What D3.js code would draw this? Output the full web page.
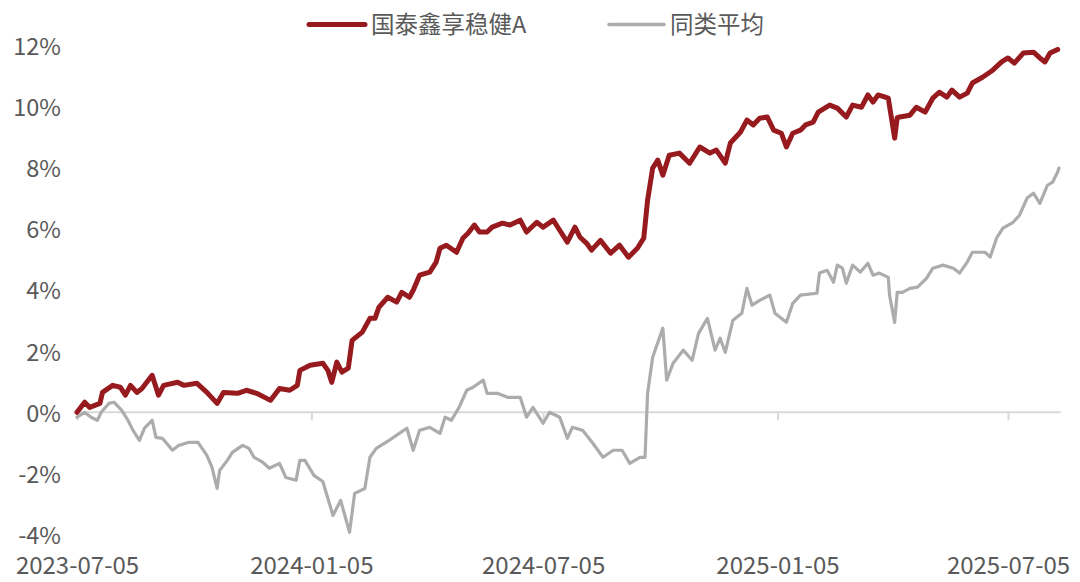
<!DOCTYPE html>
<html><head><meta charset="utf-8">
<script src="https://cdn.jsdelivr.net/npm/d3@7/dist/d3.min.js"></script>
<style>html,body{margin:0;padding:0;background:#fff}svg{display:block}</style>
</head><body>
<svg id="chart" width="1080" height="582"></svg>
<script>
const seriesNames = ["国泰鑫享稳健A", "同类平均"];
const seriesColors = ["#971b1e", "#acacac"];

const fundDates = ["2023-07-05","2023-07-11","2023-07-15","2023-07-23","2023-07-25","2023-08-02","2023-08-08","2023-08-12","2023-08-16","2023-08-21","2023-08-25","2023-09-02","2023-09-07","2023-09-11","2023-09-22","2023-09-27","2023-10-07","2023-10-15","2023-10-23","2023-10-28","2023-11-08","2023-11-15","2023-11-23","2023-12-04","2023-12-11","2023-12-19","2023-12-25","2023-12-27","2024-01-04","2024-01-14","2024-01-18","2024-01-21","2024-01-25","2024-01-29","2024-02-03","2024-02-06","2024-02-14","2024-02-20","2024-02-24","2024-02-27","2024-03-05","2024-03-12","2024-03-16","2024-03-22","2024-03-25","2024-03-30","2024-04-07","2024-04-12","2024-04-15","2024-04-20","2024-04-28","2024-05-03","2024-05-07","2024-05-12","2024-05-16","2024-05-22","2024-05-26","2024-06-03","2024-06-09","2024-06-17","2024-06-22","2024-06-30","2024-07-05","2024-07-13","2024-07-18","2024-07-24","2024-07-30","2024-08-03","2024-08-08","2024-08-12","2024-08-19","2024-08-27","2024-09-03","2024-09-10","2024-09-17","2024-09-22","2024-09-25","2024-09-29","2024-10-03","2024-10-07","2024-10-12","2024-10-20","2024-10-28","2024-11-05","2024-11-13","2024-11-18","2024-11-25","2024-11-29","2024-12-07","2024-12-12","2024-12-17","2024-12-22","2024-12-28","2025-01-02","2025-01-08","2025-01-12","2025-01-17","2025-01-23","2025-01-27","2025-02-02","2025-02-06","2025-02-15","2025-02-21","2025-02-28","2025-03-05","2025-03-12","2025-03-17","2025-03-21","2025-03-25","2025-04-02","2025-04-07","2025-04-09","2025-04-11","2025-04-19","2025-04-24","2025-05-01","2025-05-07","2025-05-12","2025-05-18","2025-05-22","2025-05-28","2025-06-03","2025-06-07","2025-06-15","2025-06-23","2025-06-30","2025-07-05","2025-07-10","2025-07-17","2025-07-25","2025-07-30","2025-08-03","2025-08-07","2025-08-13"];
const fundValues = [0.00,0.33,0.16,0.29,0.65,0.88,0.82,0.56,0.88,0.65,0.78,1.21,0.56,0.88,0.98,0.88,0.95,0.65,0.29,0.65,0.62,0.72,0.62,0.39,0.78,0.72,0.88,1.37,1.54,1.60,1.37,0.98,1.64,1.31,1.44,2.35,2.62,3.07,3.07,3.43,3.76,3.60,3.92,3.76,3.99,4.48,4.58,4.91,5.36,5.46,5.23,5.69,5.85,6.12,5.89,5.89,6.05,6.18,6.12,6.28,5.89,6.21,6.05,6.28,5.95,5.56,6.05,5.72,5.53,5.30,5.62,5.20,5.46,5.07,5.36,5.69,6.93,7.98,8.24,7.75,8.40,8.47,8.14,8.67,8.47,8.57,8.14,8.80,9.16,9.55,9.39,9.61,9.65,9.22,9.12,8.67,9.12,9.22,9.39,9.48,9.81,10.04,9.94,9.65,10.04,9.97,10.37,10.14,10.37,10.27,8.96,9.63,9.65,9.71,9.97,9.81,10.27,10.46,10.30,10.53,10.30,10.43,10.76,10.95,11.18,11.45,11.58,11.41,11.74,11.77,11.58,11.45,11.74,11.86];

const avgDates = ["2023-07-05","2023-07-11","2023-07-16","2023-07-21","2023-07-24","2023-07-30","2023-08-03","2023-08-09","2023-08-14","2023-08-18","2023-08-23","2023-08-27","2023-09-02","2023-09-05","2023-09-10","2023-09-18","2023-09-23","2023-10-01","2023-10-08","2023-10-15","2023-10-19","2023-10-23","2023-10-25","2023-10-31","2023-11-04","2023-11-12","2023-11-17","2023-11-21","2023-11-28","2023-12-03","2023-12-11","2023-12-16","2023-12-24","2023-12-27","2023-12-31","2024-01-07","2024-01-14","2024-01-22","2024-01-28","2024-02-04","2024-02-08","2024-02-16","2024-02-20","2024-02-25","2024-03-06","2024-03-14","2024-03-20","2024-03-25","2024-03-30","2024-04-07","2024-04-15","2024-04-19","2024-04-24","2024-04-30","2024-05-06","2024-05-11","2024-05-19","2024-05-22","2024-05-30","2024-06-07","2024-06-17","2024-06-22","2024-06-27","2024-07-05","2024-07-10","2024-07-18","2024-07-24","2024-07-28","2024-08-05","2024-08-13","2024-08-21","2024-08-29","2024-09-05","2024-09-11","2024-09-19","2024-09-23","2024-09-25","2024-09-29","2024-10-07","2024-10-10","2024-10-15","2024-10-23","2024-10-30","2024-11-04","2024-11-11","2024-11-17","2024-11-21","2024-11-25","2024-12-01","2024-12-08","2024-12-12","2024-12-16","2024-12-22","2024-12-30","2025-01-03","2025-01-12","2025-01-17","2025-01-23","2025-02-05","2025-02-07","2025-02-13","2025-02-18","2025-02-21","2025-02-25","2025-02-28","2025-03-05","2025-03-11","2025-03-17","2025-03-21","2025-03-26","2025-04-02","2025-04-03","2025-04-07","2025-04-09","2025-04-13","2025-04-19","2025-04-25","2025-05-02","2025-05-07","2025-05-15","2025-05-23","2025-05-28","2025-06-03","2025-06-07","2025-06-17","2025-06-21","2025-06-26","2025-07-01","2025-07-09","2025-07-14","2025-07-20","2025-07-25","2025-07-30","2025-08-05","2025-08-09","2025-08-13","2025-08-14"];
const avgValues = [-0.16,0.00,-0.16,-0.26,0.00,0.29,0.33,0.07,-0.26,-0.59,-0.92,-0.52,-0.26,-0.82,-0.85,-1.24,-1.08,-0.98,-0.98,-1.41,-1.80,-2.49,-1.90,-1.57,-1.31,-1.08,-1.18,-1.47,-1.64,-1.83,-1.67,-2.13,-2.22,-1.57,-1.57,-2.06,-2.26,-3.37,-2.88,-3.92,-2.65,-2.49,-1.47,-1.18,-0.92,-0.69,-0.52,-1.24,-0.59,-0.49,-0.69,-0.16,-0.26,0.16,0.72,0.82,1.05,0.62,0.62,0.49,0.49,-0.16,0.16,-0.36,0.00,-0.16,-0.85,-0.49,-0.59,-1.01,-1.47,-1.24,-1.24,-1.67,-1.47,-1.47,0.62,1.80,2.75,1.05,1.60,2.03,1.70,2.58,3.07,2.03,2.42,1.96,3.01,3.24,4.05,3.50,3.66,3.83,3.24,2.94,3.56,3.83,3.89,4.55,4.64,4.25,4.81,4.71,4.22,4.81,4.58,4.87,4.48,4.55,4.41,3.83,2.94,3.92,3.92,4.05,4.09,4.38,4.71,4.81,4.71,4.55,4.91,5.23,5.23,5.07,5.69,6.02,6.21,6.44,7.00,7.16,6.83,7.42,7.52,7.85,7.98];

const xTickLabels = ["2023-07-05","2024-01-05","2024-07-05","2025-01-05","2025-07-05"];
const yTickValues = [-4,-2,0,2,4,6,8,10,12];

const parse = d3.timeParse("%Y-%m-%d");
const fmt = d3.timeFormat("%Y-%m-%d");
const FONT = "'Noto Sans CJK SC','Microsoft YaHei',sans-serif";
const TEXT = "#595959";

const x = d3.scaleTime()
  .domain([parse("2023-07-05"), parse("2025-07-05")])
  .range([77, 1008]);
const y = d3.scaleLinear().domain([-4, 12]).range([534.7, 45.1]);

const svg = d3.select("#chart");

const fund = fundDates.map((d, i) => ({date: parse(d), value: fundValues[i]}));
const avg = avgDates.map((d, i) => ({date: parse(d), value: avgValues[i]}));
const lastDate = d3.max([fund[fund.length-1].date, avg[avg.length-1].date]);

// zero baseline
svg.append("line")
  .attr("x1", x(parse("2023-07-05")) - 2).attr("x2", x(lastDate) + 2)
  .attr("y1", y(0)).attr("y2", y(0))
  .attr("stroke", "#d9d9d9").attr("stroke-width", 2);

// x axis ticks + labels
const xAxis = d3.axisBottom(x)
  .tickValues(xTickLabels.map(parse))
  .tickFormat(fmt)
  .tickSize(8)
  .tickSizeOuter(0);
const gx = svg.append("g").attr("transform", `translate(0,${y(0)})`).call(xAxis);
gx.select(".domain").remove();
gx.selectAll(".tick line").attr("stroke", "#d9d9d9").attr("stroke-width", 2);
gx.selectAll(".tick text")
  .attr("y", 574 - y(0)).attr("dy", 0)
  .attr("fill", TEXT).style("font-family", FONT).style("font-size", "24px");

// y axis labels
const yAxis = d3.axisLeft(y).tickValues(yTickValues).tickFormat(d => d + "%").tickSize(0).tickPadding(0);
const gy = svg.append("g").attr("transform", "translate(61,0)").call(yAxis);
gy.select(".domain").remove();
gy.selectAll(".tick text")
  .attr("dy", "0.38em")
  .attr("fill", TEXT).style("font-family", FONT).style("font-size", "23.5px");

// lines
const line = d3.line().x(d => x(d.date)).y(d => y(d.value));
svg.append("path").datum(avg)
  .attr("d", line).attr("fill", "none")
  .attr("stroke", seriesColors[1]).attr("stroke-width", 3.2)
  .attr("stroke-linejoin", "round").attr("stroke-linecap", "round");
svg.append("path").datum(fund)
  .attr("d", line).attr("fill", "none")
  .attr("stroke", seriesColors[0]).attr("stroke-width", 5)
  .attr("stroke-linejoin", "round").attr("stroke-linecap", "round");

// legend
const legendItems = [{x: 309, w: 56, sw: 5}, {x: 609, w: 55, sw: 3.5}];
const lg = svg.append("g").selectAll("g").data(seriesNames).join("g")
  .attr("transform", (d, i) => `translate(${legendItems[i].x},24.5)`);
lg.append("line").attr("x1", 0).attr("x2", (d, i) => legendItems[i].w)
  .attr("y1", 0).attr("y2", 0)
  .attr("stroke", (d, i) => seriesColors[i])
  .attr("stroke-width", (d, i) => legendItems[i].sw)
  .attr("stroke-linecap", "round");
lg.append("text").attr("x", (d, i) => legendItems[i].w + 6).attr("y", 0).attr("dy", "0.35em")
  .attr("fill", TEXT).style("font-family", FONT).style("font-size", "23.5px")
  .text(d => d);
</script>
</body></html>
